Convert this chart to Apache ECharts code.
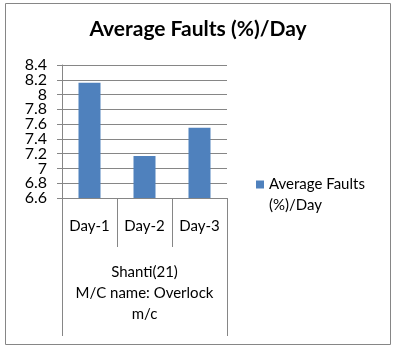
<!DOCTYPE html>
<html><head><meta charset="utf-8">
<script src="https://cdn.jsdelivr.net/npm/echarts@6/dist/echarts.min.js"></script>
<style>html,body{margin:0;padding:0;background:#fff}#c{width:396px;height:351px}</style>
</head><body><div id="c"></div>
<script>
var titleText = "Average Faults (%)/Day";
var seriesName = "Average Faults (%)/Day";
var categories = ["Day-1", "Day-2", "Day-3"];
var groupLabels = ["Shanti(21)\nM/C name: Overlock\nm/c"];
var values = [8.16, 7.17, 7.55];
var yMin = 6.6, yMax = 8.4, yStep = 0.2;

var font = "Lato";
function tickIndex(v) { return Math.round((v - yMin) / yStep); }
function fmt(v) { return String(Math.round(v * 10) / 10); }
var labelBase = {margin: 15, fontFamily: font, fontSize: 16, color: '#000',
  showMinLabel: true, showMaxLabel: true, hideOverlap: false};

var chart = echarts.init(document.getElementById('c'), null, {renderer: 'canvas'});
chart.setOption({
  animation: false,
  backgroundColor: '#fff',
  title: {
    text: titleText, left: 'center', top: 14,
    textStyle: {fontFamily: font, fontWeight: 'bold', fontSize: 21, color: '#000'}
  },
  legend: {
    left: 256, top: 153, itemWidth: 8, itemHeight: 8, itemGap: 0, padding: 0,
    icon: 'rect',
    formatter: function () { return " \nAverage Faults\n(%)/Day"; },
    textStyle: {fontFamily: font, fontSize: 15, color: '#000', lineHeight: 21}
  },
  grid: {left: 62, right: 169, top: 65, bottom: 153},
  xAxis: [{
    type: 'category', data: categories, position: 'bottom',
    axisLine: {show: true, lineStyle: {color: '#868686', width: 1}},
    axisTick: {show: true, length: 49, interval: 0, lineStyle: {color: '#868686'}},
    axisLabel: {margin: 21, fontFamily: font, fontSize: 15, color: '#000', interval: 0}
  }, {
    type: 'category', data: groupLabels, position: 'bottom',
    axisLine: {show: false},
    axisTick: {show: true, length: 138, lineStyle: {color: '#868686'}},
    axisLabel: {margin: 64, fontFamily: font, fontSize: 15, color: '#000', lineHeight: 21, align: 'center'}
  }],
  yAxis: [{
    type: 'value', min: yMin, max: yMax, interval: yStep, position: 'left',
    axisLine: {show: true, lineStyle: {color: '#868686'}},
    axisTick: {show: true, length: 5, lineStyle: {color: '#868686'}},
    splitLine: {show: true, lineStyle: {color: '#868686'}},
    axisLabel: Object.assign({}, labelBase, {
      formatter: function (v) { return tickIndex(v) % 2 === 0 ? fmt(v) : ''; }})
  }, {
    type: 'value', min: yMin, max: yMax, interval: yStep, position: 'left', offset: 0,
    axisLine: {show: false}, axisTick: {show: false}, splitLine: {show: false},
    axisLabel: Object.assign({}, labelBase, {
      formatter: function (v) { return tickIndex(v) % 2 === 1 ? fmt(v) : ''; }})
  }],
  series: [{
    name: seriesName, type: 'bar', data: values, xAxisIndex: 0, yAxisIndex: 0,
    barWidth: 22, itemStyle: {color: '#4F81BD'}
  }],
  graphic: [{
    type: 'rect', shape: {x: 5.5, y: 3.5, width: 385, height: 341},
    style: {fill: null, stroke: '#868686', lineWidth: 1}, silent: true
  }]
});
</script></body></html>
